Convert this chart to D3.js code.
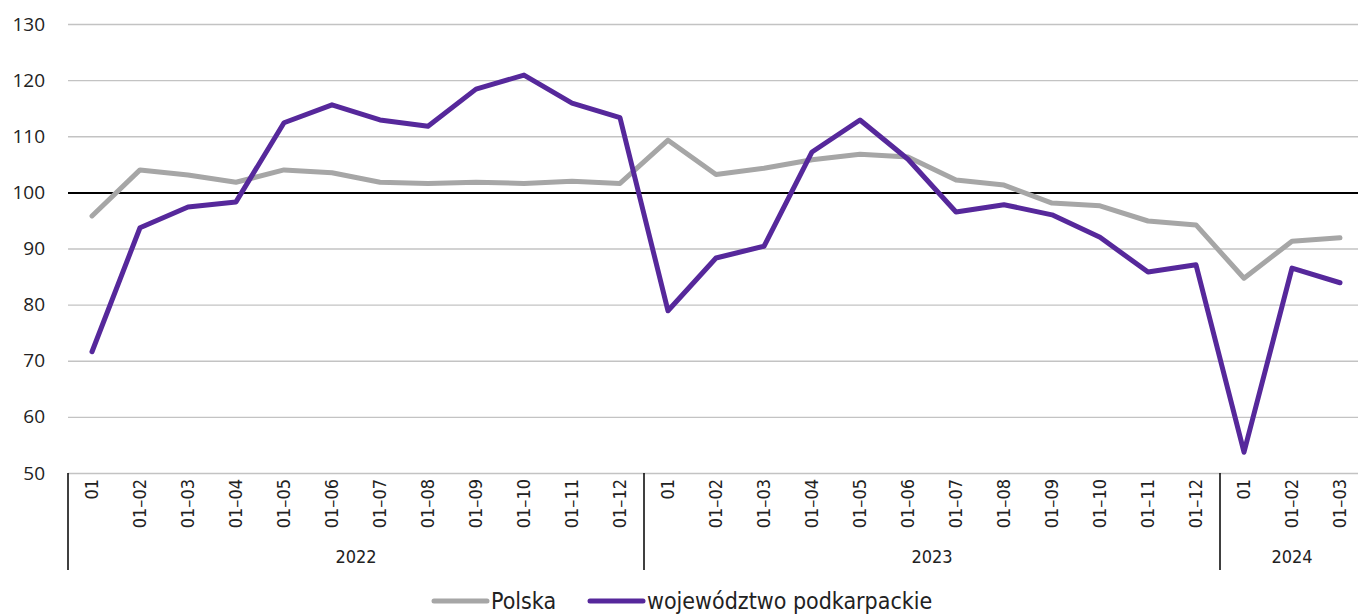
<!DOCTYPE html>
<html>
<head>
<meta charset="utf-8">
<script src="https://cdn.jsdelivr.net/npm/d3@7"></script>
<style>
  html, body { margin: 0; padding: 0; background: #fff; }
  svg { display: block; }
</style>
</head>
<body>
<div id="chart"></div>
<script>
// categories (month ranges) and their years
var months = ["01", "01–02", "01–03", "01–04", "01–05", "01–06", "01–07", "01–08", "01–09", "01–10", "01–11", "01–12",
              "01", "01–02", "01–03", "01–04", "01–05", "01–06", "01–07", "01–08", "01–09", "01–10", "01–11", "01–12",
              "01", "01–02", "01–03"];
var years = ["2022", "2022", "2022", "2022", "2022", "2022", "2022", "2022", "2022", "2022", "2022", "2022",
             "2023", "2023", "2023", "2023", "2023", "2023", "2023", "2023", "2023", "2023", "2023", "2023",
             "2024", "2024", "2024"];

var polska = [95.8, 104.0, 103.1, 101.8, 104.0, 103.5, 101.8, 101.6, 101.8, 101.6, 102.0, 101.6,
              109.3, 103.2, 104.3, 105.8, 106.8, 106.3, 102.2, 101.3, 98.1, 97.6, 94.9, 94.2,
              84.7, 91.3, 91.9];
var podkarpackie = [71.6, 93.7, 97.4, 98.3, 112.4, 115.6, 112.9, 111.8, 118.4, 120.9, 115.9, 113.3,
                    78.9, 88.3, 90.4, 107.2, 112.9, 105.9, 96.5, 97.8, 96.0, 92.0, 85.8, 87.1,
                    53.7, 86.5, 83.9];

var yTicks = [50, 60, 70, 80, 90, 100, 110, 120, 130];
var seriesNames = ["Polska", "województwo podkarpackie"];
var seriesColors = ["#a6a6a6", "#56289b"];

var iWidth = 1358, iHeight = 616;
var oMargin = { left: 68, top: 24, bottom: 143 };
var plotRight = 1364; // last band runs past the picture edge
var condensed = "'DejaVu Sans Condensed', 'Liberation Sans Narrow', sans-serif";

var svg = d3.select("#chart").append("svg")
    .attr("width", iWidth)
    .attr("height", iHeight);

var idx = d3.range(months.length);

var x = d3.scaleBand()
    .domain(idx)
    .range([oMargin.left, plotRight])
    .paddingInner(0).paddingOuter(0);

var y = d3.scaleLinear()
    .domain([50, 130])
    .range([iHeight - oMargin.bottom, oMargin.top]);

// grid lines
var yAxis = d3.axisLeft(y).tickValues(yTicks).tickSize(-(plotRight - oMargin.left)).tickPadding(23);
var gY = svg.append("g")
    .attr("transform", "translate(" + oMargin.left + ",0)")
    .call(yAxis);
gY.select(".domain").remove();
gY.selectAll(".tick line")
    .attr("stroke", function(d) { return d === 100 ? "#000" : "#c3c3c3"; })
    .attr("stroke-width", function(d) { return d === 100 ? 2 : 1.3; });
gY.selectAll(".tick text")
    .attr("fill", "#222")
    .style("font-family", "'Open Sans', 'Noto Sans', sans-serif")
    .style("font-size", "19px");

// category labels
var xAxis = d3.axisBottom(x).tickSize(0).tickPadding(0).tickFormat(function(i) { return months[i]; });
var gX = svg.append("g")
    .attr("transform", "translate(0," + y(50) + ")")
    .call(xAxis);
gX.select(".domain").remove();
gX.selectAll(".tick text")
    .attr("transform", "rotate(-90)")
    .attr("x", -6)
    .attr("y", 0)
    .attr("dy", "0.35em")
    .attr("text-anchor", "end")
    .attr("fill", "#222")
    .style("font-family", condensed)
    .style("font-size", "18px");

// year groups
var groups = [];
years.forEach(function(yr, i) {
    var last = groups[groups.length - 1];
    if (!last || last.year !== yr) groups.push({ year: yr, start: i, end: i });
    else last.end = i;
});

var sepTop = y(50), sepBottom = 570;
svg.append("g").selectAll("line")
    .data(groups)
    .join("line")
    .attr("x1", function(g) { return x(g.start); })
    .attr("x2", function(g) { return x(g.start); })
    .attr("y1", sepTop)
    .attr("y2", sepBottom)
    .attr("stroke", "#000")
    .attr("stroke-width", 1.5);

svg.append("g").selectAll("text")
    .data(groups)
    .join("text")
    .attr("x", function(g) { return Math.min((x(g.start) + x(g.end) + x.bandwidth()) / 2, 1292); })
    .attr("y", 557)
    .attr("dy", "0.35em")
    .attr("text-anchor", "middle")
    .attr("fill", "#222")
    .style("font-family", condensed)
    .style("font-size", "18px")
    .text(function(g) { return g.year; });

// lines
var line = d3.line()
    .x(function(d, i) { return x(i) + x.bandwidth() / 2; })
    .y(function(d) { return y(d); });

[polska, podkarpackie].forEach(function(series, k) {
    svg.append("path")
        .datum(series)
        .attr("d", line)
        .attr("fill", "none")
        .attr("stroke", seriesColors[k])
        .attr("stroke-width", 5)
        .attr("stroke-linejoin", "round")
        .attr("stroke-linecap", "round");
});

// legend
var legend = svg.append("g").attr("transform", "translate(432,601)");
var legendX = [0, 156];
seriesNames.forEach(function(name, k) {
    var g = legend.append("g").attr("transform", "translate(" + legendX[k] + ",0)");
    g.append("line")
        .attr("x1", 2).attr("x2", 55)
        .attr("stroke", seriesColors[k])
        .attr("stroke-width", 5)
        .attr("stroke-linecap", "round");
    g.append("text")
        .attr("x", 59)
        .attr("dy", "0.35em")
        .attr("fill", "#222")
        .style("font-family", condensed)
        .style("font-size", "23px")
        .text(name);
});
</script>
</body>
</html>
